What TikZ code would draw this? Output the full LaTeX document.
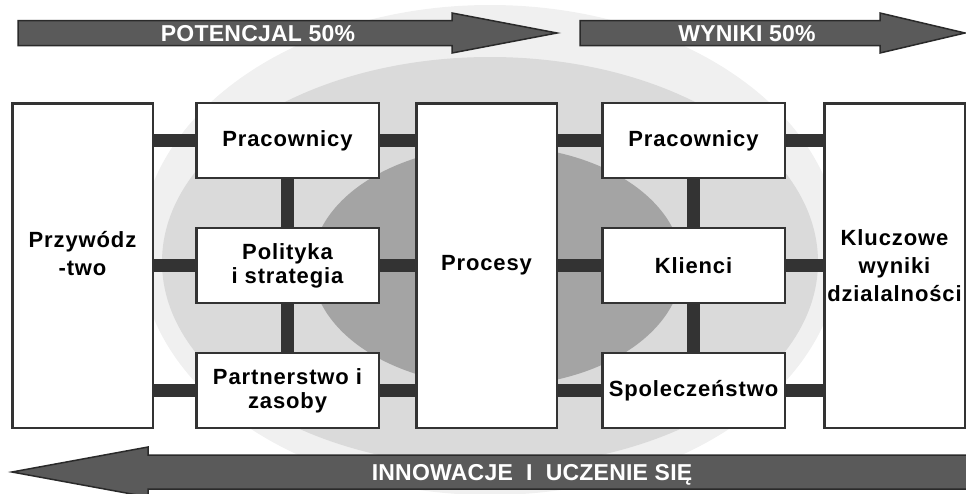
\documentclass[tikz,border=0pt]{standalone}
\usepackage{fontspec}
\setmainfont{Liberation Sans}
\newfontfamily\diagfont[LetterSpace=4]{Liberation Sans}
\newfontfamily\bandfont[LetterSpace=1]{Liberation Sans}
\usetikzlibrary{positioning,calc}

\definecolor{barcol}{HTML}{333333}
\definecolor{arrowcol}{HTML}{5A5A5A}
\definecolor{arrowedge}{HTML}{2A2A2A}
\definecolor{bgouter}{HTML}{F0F0F0}
\definecolor{bgmid}{HTML}{DADADA}
\definecolor{bginner}{HTML}{A4A4A4}

\newcommand\dgfont{\diagfont\bfseries\fontsize{22}{24}\selectfont}
\newcommand\dgtallfont{\diagfont\bfseries\fontsize{22}{28}\selectfont}
\newcommand\dgbandfont{\bandfont\bfseries\fontsize{23}{24}\selectfont}

\begin{document}
\begin{tikzpicture}[
    x=1pt, y=-1pt,
    box/.style={draw=barcol,
                line width=2.5pt,
                fill=white,
                minimum width=182.5pt,
                minimum height=75pt,
                inner sep=1pt,
                align=center,
                font=\dgfont},
    tall/.style={box, minimum width=140.5pt, minimum height=324.5pt,
                 font=\dgtallfont},
    boxtext/.style={align=center, inner sep=0pt, font=\dgtallfont},
    bar/.style={draw=barcol, line width=13pt},
    band/.style={fill=arrowcol, draw=arrowedge, line width=1.5pt, line join=miter},
    bandtext/.style={text=white, inner sep=0pt, text depth=0pt, font=\dgbandfont}
]
\useasboundingbox (0,0) rectangle (966,493);
\clip (0,0) rectangle (966,493);

% background
\fill[bgouter] (490,250) ellipse [x radius=350pt, y radius=245pt];
\fill[bgmid] (490,262) ellipse [x radius=328pt, y radius=205pt];
\fill[bginner] (497,266) ellipse [x radius=185pt, y radius=120pt];

% arrows
\draw[band] (18,20.5) -- (452,20.5) -- (452,13) -- (557,33) -- (452,53) -- (452,45.5) -- (18,45.5) -- cycle;
\draw[band] (580,20.5) -- (880,20.5) -- (880,13) -- (965,33) -- (880,53) -- (880,45.5) -- (580,45.5) -- cycle;
\draw[band] (12,472) -- (148,447) -- (148,455) -- (975,455) -- (975,489) -- (148,489) -- (148,497) -- cycle;
\node[bandtext] (potencjal) at (258,33) {POTENCJAL 50\%};
\node[bandtext] (wyniki) at (747,33) {WYNIKI 50\%};
\node[bandtext] (innowacje) at (532,472) {INNOWACJE\ \ I\ \ UCZENIE SIĘ};

% boxes
\node[tall] (lead) at (82.5,265.5) {};
\node[boxtext] (leadtxt) at ([yshift=12pt]lead.center) {Przywódz\\-two};
\node[tall] (proc) at (486.5,265.5) {Procesy};
\node[tall] (res) at (894.5,265.5) {Kluczowe\\wyniki\\dzialalności};

\foreach \name/\y/\txt in {pl1/140.5/Pracownicy,
                           pl2/265.5/{Polityka\\i strategia},
                           pl3/390.5/{Partnerstwo i\\zasoby}} {
    \node[box] (\name) at (287.5,\y) {\txt};
}
\foreach \name/\y/\txt in {pr1/140.5/Pracownicy,
                           pr2/265.5/Klienci,
                           pr3/390.5/Spoleczeństwo} {
    \node[box] (\name) at (693.5,\y) {\txt};
}

% links
\foreach \i in {1,2,3} {
    \draw[bar] (lead.east |- pl\i.west) -- (pl\i.west);
    \draw[bar] (pl\i.east) -- (proc.west |- pl\i.east);
    \draw[bar] (proc.east |- pr\i.west) -- (pr\i.west);
    \draw[bar] (pr\i.east) -- (res.west |- pr\i.east);
}
\foreach \i/\j in {1/2,2/3} {
    \draw[bar] (pl\i.south) -- (pl\j.north);
    \draw[bar] (pr\i.south) -- (pr\j.north);
}
\end{tikzpicture}
\end{document}
